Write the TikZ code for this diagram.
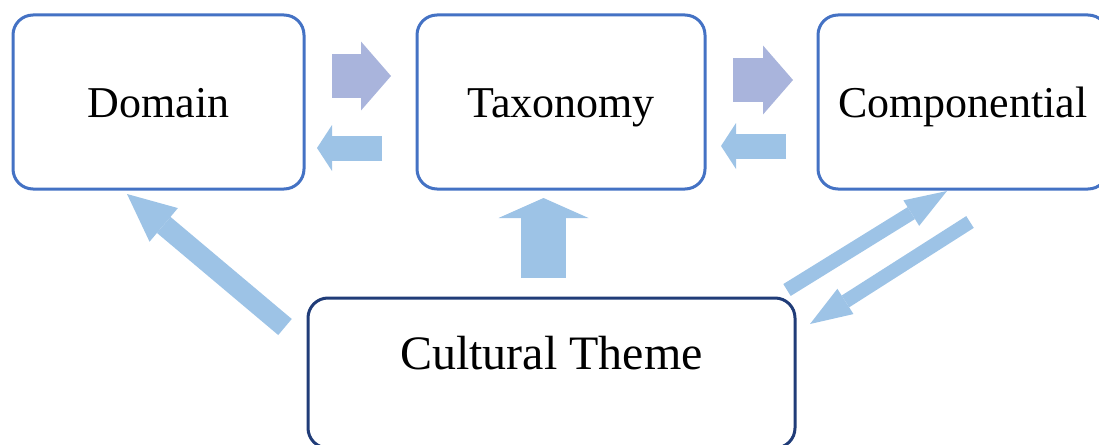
\documentclass[tikz,border=0pt]{standalone}
\usepackage{fontspec}
\setmainfont{Liberation Serif}
\usetikzlibrary{positioning, arrows.meta, calc}

\definecolor{boxblue}{HTML}{4472C4}
\definecolor{themeblue}{HTML}{203C78}
\definecolor{arrowblue}{HTML}{9DC3E6}
\definecolor{arrowlav}{HTML}{A9B4DC}

\tikzset{
	stage/.style={draw=boxblue, line width=3pt, rounded corners=20pt, fill=white,
		minimum width=290pt, minimum height=174pt, inner sep=0pt, outer sep=0pt,
		text height=30pt, text depth=0pt, font=\fontsize{44}{50}\selectfont},
	themebox/.style={stage, draw=themeblue, minimum width=487pt, minimum height=150pt,
		text depth=38pt, font=\fontsize{48}{56}\selectfont},
	fatfwd/.style={draw=arrowlav, line width=43pt, -{Triangle[length=30pt, width=69pt, line width=0pt]}},
	fatback/.style={draw=arrowblue, line width=25pt, -{Triangle[length=15pt, width=46pt, line width=0pt]}},
	fatup/.style={draw=arrowblue, line width=45pt, -{Triangle[length=20pt, width=90pt, line width=0pt]}},
	diagwide/.style={draw=arrowblue, line width=21pt, -{Triangle[length=48pt, width=44pt, line width=0pt]}},
	diagslim/.style={draw=arrowblue, line width=14pt, -{Triangle[length=42pt, width=30pt, line width=0pt]}}
}

\begin{document}
\begin{tikzpicture}[x=1pt, y=-1pt]
	\useasboundingbox (0,0) rectangle (1099,444);
	
	\node[stage, minimum width=291pt] (dom) at (158.5,102) {Domain};
	\node[stage, right=113pt of dom, minimum width=288pt] (tax) {Taxonomy};
	\node[stage, right=113pt of tax] (comp) {Componential};
	\node[themebox] (theme) at (551.5,373) {Cultural Theme};
	
	% top row
	\draw[fatfwd, shorten <=28pt, shorten >=26pt] ([yshift=26pt]dom.east) -- ([yshift=26pt]tax.west);
	\draw[fatback, shorten <=35pt, shorten >=13pt] ([yshift=-46pt]tax.west) -- ([yshift=-46pt]dom.east);
	\draw[fatfwd, shorten <=28pt, shorten >=25pt] ([yshift=22pt]tax.east) -- ([yshift=22pt]comp.west);
	\draw[fatback, shorten <=32pt, shorten >=16pt] ([yshift=-44pt]comp.west) -- ([yshift=-44pt]tax.east);
	
	% from the theme
	\coordinate (upfoot) at ([xshift=-8pt]theme.north);
	\draw[fatup, shorten <=20pt, shorten >=9pt] (upfoot) -- (upfoot |- tax.south);
	
	\coordinate (dtail) at ($(theme.north west)+(-23,29)$);
	\coordinate (dhead) at ($(dom.south)+(-31.5,5)$);
	\draw[diagwide] (dtail) -- (dhead);
	
	\coordinate (ctail) at ($(theme.north east)+(-8,-8)$);
	\coordinate (chead) at ($(comp.south west)+(129,2)$);
	\draw[diagslim] (ctail) -- (chead);
	
	\coordinate (rtail) at ($(comp.south west)+(152,33)$);
	\coordinate (rhead) at ($(theme.north east)+(15,26)$);
	\draw[diagslim] (rtail) -- (rhead);
\end{tikzpicture}
\end{document}
